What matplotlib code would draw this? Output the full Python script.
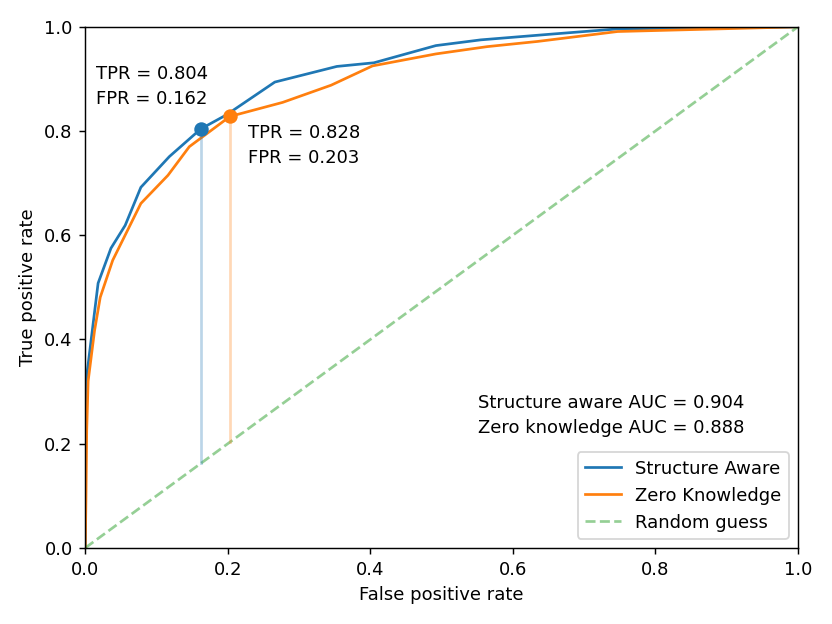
import matplotlib
matplotlib.use("Agg")
import matplotlib.pyplot as plt

# ROC points
sa_fpr = [0.0, 0.001, 0.002, 0.018, 0.036, 0.056, 0.078, 0.118, 0.162, 0.198,
          0.266, 0.353, 0.405, 0.492, 0.555, 0.654, 0.747, 1.0]
sa_tpr = [0.0, 0.30, 0.33, 0.508, 0.575, 0.619, 0.692, 0.751, 0.804, 0.831,
          0.894, 0.924, 0.931, 0.964, 0.975, 0.986, 0.996, 1.0]

zk_fpr = [0.0, 0.001, 0.002, 0.004, 0.013, 0.021, 0.0385, 0.078, 0.116, 0.146,
          0.203, 0.277, 0.345, 0.403, 0.492, 0.564, 0.635, 0.747, 1.0]
zk_tpr = [0.0, 0.10, 0.225, 0.32, 0.417, 0.481, 0.552, 0.661, 0.715, 0.770,
          0.828, 0.855, 0.888, 0.925, 0.948, 0.962, 0.972, 0.991, 1.0]

sa_point = (0.162, 0.804)
zk_point = (0.203, 0.828)
sa_auc = 0.904
zk_auc = 0.888

fig, ax = plt.subplots(figsize=(6.4, 4.8), dpi=130)

ax.plot(sa_fpr, sa_tpr, color='#1f77b4', label='Structure Aware')
ax.plot(zk_fpr, zk_tpr, color='#ff7f0e', label='Zero Knowledge')
ax.plot([0, 1], [0, 1], color='#2ca02c', linestyle='--', alpha=0.5, label='Random guess')

# drop lines from the chosen operating points to the diagonal
ax.plot([sa_point[0], sa_point[0]], [sa_point[0], sa_point[1]], color='#1f77b4', alpha=0.3)
ax.plot([zk_point[0], zk_point[0]], [zk_point[0], zk_point[1]], color='#ff7f0e', alpha=0.3)
ax.plot(*sa_point, 'o', color='#1f77b4', markersize=7)
ax.plot(*zk_point, 'o', color='#ff7f0e', markersize=7)

ax.text(0.015, 0.851, 'TPR = %.3f\nFPR = %.3f' % (sa_point[1], sa_point[0]), linespacing=1.5)
ax.text(0.228, 0.738, 'TPR = %.3f\nFPR = %.3f' % (zk_point[1], zk_point[0]), linespacing=1.5)
ax.text(0.551, 0.221, 'Structure aware AUC = %.3f\nZero knowledge AUC = %.3f' % (sa_auc, zk_auc),
        linespacing=1.5)

ax.set_xlim(0, 1)
ax.set_ylim(0, 1)
ax.set_xlabel('False positive rate')
ax.set_ylabel('True positive rate')
ax.legend(loc='lower right')

fig.subplots_adjust(left=0.1025, right=0.959, top=0.957, bottom=0.122)
fig.savefig('out.png')
